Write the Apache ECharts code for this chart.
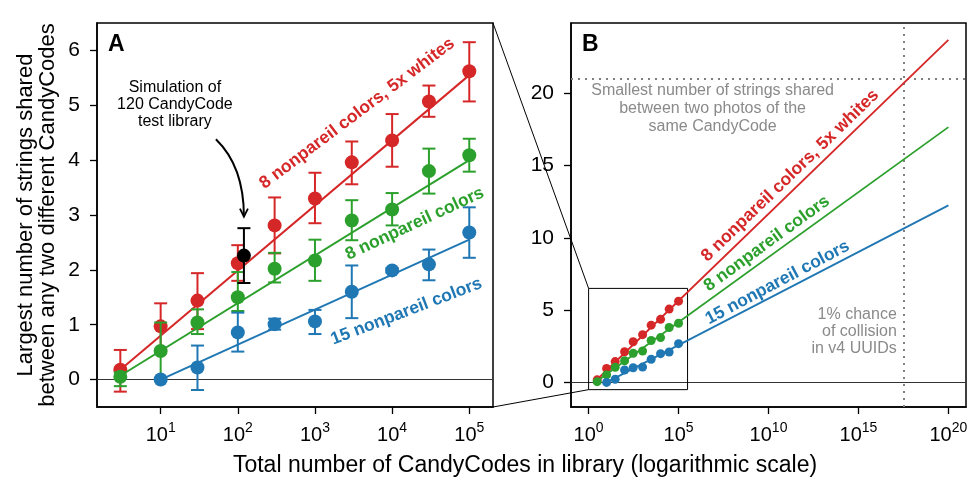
<!DOCTYPE html>
<html><head><meta charset="utf-8">
<script src="https://cdn.jsdelivr.net/npm/echarts@6/dist/echarts.min.js"></script>
<style>html,body{margin:0;padding:0;background:#fff}#c{width:973px;height:478px}</style>
</head><body><div id="c"></div>
<script>
// ---------- data ----------
const libSizes   = [3, 10, 30, 100, 300, 1000, 3000, 10000, 30000, 100000];
const redMean    = [0.18, 0.97, 1.44, 2.12, 2.81, 3.30, 3.96, 4.36, 5.07, 5.62];
const redLow     = [-0.22, 0.55, 0.92, 1.80, 2.30, 2.85, 3.56, 3.88, 4.79, 5.07];
const redHigh    = [0.54, 1.39, 1.94, 2.45, 3.32, 3.77, 4.34, 4.84, 5.36, 6.15];
const greenMean  = [0.05, 0.52, 1.04, 1.50, 2.02, 2.17, 2.90, 3.10, 3.80, 4.09];
const greenLow   = [-0.12, 0.00, 0.83, 1.25, 1.77, 1.80, 2.54, 2.81, 3.39, 3.79];
const greenHigh  = [0.13, 1.04, 1.28, 1.96, 2.31, 2.55, 3.27, 3.40, 4.21, 4.39];
const blueSizes  = [10, 30, 100, 300, 1000, 3000, 10000, 30000, 100000];
const blueMean   = [0.00, 0.22, 0.86, 1.01, 1.06, 1.60, 1.99, 2.10, 2.68];
const blueLow    = [0.00, -0.19, 0.51, 0.91, 0.83, 1.12, 1.95, 1.81, 2.22];
const blueHigh   = [0.00, 0.62, 1.22, 1.11, 1.27, 2.08, 2.03, 2.37, 3.14];
const simSize = [120], simMean = [2.26], simLow = [1.76], simHigh = [2.76];

// fitted lines (endpoints)
const redFitA   = [[3, 0.18], [100000, 5.55]];
const greenFitA = [[3, 0.07], [100000, 4.00]];
const blueFitA  = [[10, 0.00], [100000, 2.55]];
const redFitB   = [[3, 0.20], [1e20, 23.69]];
const greenFitB = [[3, 0.10], [1e20, 17.65]];
const blueFitB  = [[10, 0.00], [1e20, 12.24]];

// axes
const xRangeA = [1.496, 2.03e5], yRangeA = [-0.5, 6.5];
const xRangeB = [0.105, 9.5e20], yRangeB = [-1.7, 24.85];
const xTicksA = [10, 100, 1000, 10000, 100000];
const yTicksA = [0, 1, 2, 3, 4, 5, 6];
const xTicksB = [1, 1e5, 1e10, 1e15, 1e20];
const yTicksB = [0, 5, 10, 15, 20];
const insetX = [1, 3.16e5], insetY = [-0.5, 6.5];
const thresholdY = 21, uuidX = 3.16e17;

// texts
const labelRed = '8 nonpareil colors, 5x whites';
const labelGreen = '8 nonpareil colors';
const labelBlue = '15 nonpareil colors';
const simText = 'Simulation of\n120 CandyCode\ntest library';
const thresholdText = 'Smallest number of strings shared\nbetween two photos of the\nsame CandyCode';
const uuidText = '1% chance\nof collision\nin v4 UUIDs';
const yTitle = 'Largest number of strings shared\nbetween any two different CandyCodes';
const xTitle = 'Total number of CandyCodes in library (logarithmic scale)';

// ---------- style ----------
const FONT = "'Liberation Sans', Arial, Helvetica, sans-serif";
const RED = '#d62728', GREEN = '#2ca02c', BLUE = '#1f77b4', GREY = '#8a8a8a';
const gridA = {left: 97, top: 23, width: 396, height: 384};
const gridB = {left: 571, top: 23, width: 395, height: 384};

const zip = (xs, ys) => xs.map((x, i) => [x, ys[i]]);
const zip3 = (xs, a, b) => xs.map((x, i) => [x, a[i], b[i]]);

function xAxisCfg(g, range, ticks) {
  return {
    type: 'log', logBase: 10, gridIndex: g, min: range[0], max: range[1],
    axisLine: {show: true, onZero: false, lineStyle: {color: '#000', width: 1.5}},
    splitLine: {show: false}, minorTick: {show: false}, minorSplitLine: {show: false},
    axisTick: {show: true, customValues: ticks, length: 7, lineStyle: {color: '#000', width: 1.3}},
    axisLabel: {
      customValues: ticks, margin: 14,
      formatter: v => '{b|10}{s|' + Math.round(Math.log10(v)) + '}',
      rich: {
        b: {fontSize: 20, fontFamily: FONT, color: '#000', lineHeight: 24, verticalAlign: 'bottom'},
        s: {fontSize: 14, fontFamily: FONT, color: '#000', lineHeight: 24, verticalAlign: 'top'}
      }
    }
  };
}
function yAxisCfg(g, range, ticks) {
  return {
    type: 'value', gridIndex: g, min: range[0], max: range[1],
    axisLine: {show: true, onZero: false, lineStyle: {color: '#000', width: 1.5}},
    splitLine: {show: false},
    axisTick: {show: true, customValues: ticks, length: 7, lineStyle: {color: '#000', width: 1.3}},
    axisLabel: {customValues: ticks, margin: 17, fontSize: 21, fontFamily: FONT, color: '#000'}
  };
}

function errRender(color) {
  return function (params, api) {
    const x = api.value(0), lo = api.value(1), hi = api.value(2);
    if (lo === hi) return {type: 'group', children: []};
    const p1 = api.coord([x, hi]), p2 = api.coord([x, lo]);
    const hw = 6.5, st = {stroke: color, lineWidth: 2};
    return {type: 'group', children: [
      {type: 'line', shape: {x1: p1[0], y1: p1[1], x2: p2[0], y2: p2[1]}, style: st},
      {type: 'line', shape: {x1: p1[0] - hw, y1: p1[1], x2: p1[0] + hw, y2: p1[1]}, style: st},
      {type: 'line', shape: {x1: p2[0] - hw, y1: p2[1], x2: p2[0] + hw, y2: p2[1]}, style: st}
    ]};
  };
}

let z = 2;
function fitSeries(g, data, color, w) {
  return {type: 'line', xAxisIndex: g, yAxisIndex: g, data: data, showSymbol: false, symbol: 'none',
    lineStyle: {color: color, width: w}, z: z++, silent: true, animation: false};
}
function errSeries(g, xs, lo, hi, color) {
  return {type: 'custom', xAxisIndex: g, yAxisIndex: g, data: zip3(xs, lo, hi),
    encode: {x: 0, y: [1, 2]}, renderItem: errRender(color), z: z++, silent: true, animation: false};
}
function dotSeries(g, xs, ys, color, size) {
  return {type: 'scatter', xAxisIndex: g, yAxisIndex: g, data: zip(xs, ys), symbol: 'circle',
    symbolSize: size, itemStyle: {color: color, opacity: 1}, z: z++, silent: true, animation: false};
}

const series = [];
// panel A
series.push({type: 'line', xAxisIndex: 0, yAxisIndex: 0, data: [], z: 1, silent: true,
  markLine: {silent: true, symbol: 'none', label: {show: false}, animation: false,
    lineStyle: {color: '#333', width: 1, type: 'solid'}, data: [{yAxis: 0}]}});
series.push(fitSeries(0, redFitA, RED, 2));
series.push(errSeries(0, libSizes, redLow, redHigh, RED));
series.push(dotSeries(0, libSizes, redMean, RED, 14));
series.push(fitSeries(0, greenFitA, GREEN, 2));
series.push(errSeries(0, libSizes, greenLow, greenHigh, GREEN));
series.push(dotSeries(0, libSizes, greenMean, GREEN, 14));
series.push(fitSeries(0, blueFitA, BLUE, 2));
series.push(errSeries(0, blueSizes, blueLow, blueHigh, BLUE));
series.push(dotSeries(0, blueSizes, blueMean, BLUE, 14));
series.push(errSeries(0, simSize, simLow, simHigh, '#000'));
series.push(dotSeries(0, simSize, simMean, '#000', 14));
// panel B
series.push({type: 'line', xAxisIndex: 1, yAxisIndex: 1, data: [], z: 1, silent: true,
  markLine: {silent: true, symbol: 'none', label: {show: false}, animation: false,
    data: [
      {yAxis: 0, lineStyle: {color: '#333', width: 1, type: 'solid'}},
      {yAxis: thresholdY, lineStyle: {color: '#808080', width: 2, type: [2, 5]}},
      {xAxis: uuidX, lineStyle: {color: '#808080', width: 2, type: [2, 5]}}
    ]}});
series.push({type: 'line', xAxisIndex: 1, yAxisIndex: 1, showSymbol: false, symbol: 'none', silent: true,
  data: [[insetX[0], insetY[0]], [insetX[1], insetY[0]], [insetX[1], insetY[1]], [insetX[0], insetY[1]], [insetX[0], insetY[0]]],
  lineStyle: {color: '#000', width: 1}, z: z++, animation: false});
series.push(fitSeries(1, redFitB, RED, 1.8));
series.push(dotSeries(1, libSizes, redMean, RED, 9));
series.push(fitSeries(1, greenFitB, GREEN, 1.8));
series.push(dotSeries(1, libSizes, greenMean, GREEN, 9));
series.push(fitSeries(1, blueFitB, BLUE, 1.8));
series.push(dotSeries(1, blueSizes, blueMean, BLUE, 9));

const chart = echarts.init(document.getElementById('c'));
chart.setOption({
  animation: false,
  backgroundColor: '#fff',
  grid: [
    Object.assign({show: true, borderColor: '#000', borderWidth: 1.5, containLabel: false}, gridA),
    Object.assign({show: true, borderColor: '#000', borderWidth: 1.5, containLabel: false}, gridB)
  ],
  xAxis: [xAxisCfg(0, xRangeA, xTicksA), xAxisCfg(1, xRangeB, xTicksB)],
  yAxis: [yAxisCfg(0, yRangeA, yTicksA), yAxisCfg(1, yRangeB, yTicksB)],
  series: series
});

// ---------- annotations placed via the axes ----------
const pA = v => chart.convertToPixel({xAxisIndex: 0, yAxisIndex: 0}, v);
const pB = v => chart.convertToPixel({xAxisIndex: 1, yAxisIndex: 1}, v);
const deg = d => d * Math.PI / 180;

function rotLabel(pos, text, color, angle) {
  return {type: 'text', x: pos[0], y: pos[1], rotation: deg(angle), z: 100,
    style: {text: text, fill: color, font: 'bold 17.5px ' + FONT, align: 'center', verticalAlign: 'middle'}};
}

const cornerTR = pA([xRangeA[1], yRangeA[1]]);
const cornerBR = pA([xRangeA[1], yRangeA[0]]);
const insetTL = pB([insetX[0], insetY[1]]);
const insetBL = pB([insetX[0], insetY[0]]);
const arrowStart = pA([52, 4.38]);
const arrowEnd = pA([simSize[0], 2.97]);
const cp = [arrowEnd[0], arrowStart[1] + 0.35 * (arrowEnd[1] - arrowStart[1])];

const graphics = [
  {type: 'line', shape: {x1: cornerTR[0], y1: cornerTR[1], x2: insetTL[0], y2: insetTL[1]}, style: {stroke: '#000', lineWidth: 1}, z: 50},
  {type: 'line', shape: {x1: cornerBR[0], y1: cornerBR[1], x2: insetBL[0], y2: insetBL[1]}, style: {stroke: '#000', lineWidth: 1}, z: 50},
  rotLabel(pA([3524, 4.85]), labelRed, RED, 37),
  rotLabel(pA([19680, 2.84]), labelGreen, GREEN, 25),
  rotLabel(pA([15380, 1.24]), labelBlue, BLUE, 21),
  rotLabel(pB([1.6e11, 14.3]), labelRed, RED, 44),
  rotLabel(pB([8.1e9, 9.6]), labelGreen, GREEN, 36),
  rotLabel(pB([3.2e10, 6.9]), labelBlue, BLUE, 28),
  {type: 'text', x: pA([15.3, 5.01])[0], y: pA([15.3, 5.01])[1], z: 100,
    style: {text: simText, fill: '#000', font: '16px ' + FONT, align: 'center', verticalAlign: 'middle', lineHeight: 17}},
  {type: 'bezierCurve', shape: {x1: arrowStart[0], y1: arrowStart[1], x2: arrowEnd[0], y2: arrowEnd[1], cpx1: cp[0], cpy1: cp[1]},
    style: {stroke: '#000', lineWidth: 2, fill: null}, z: 100},
  {type: 'polyline', shape: {points: [[arrowEnd[0] - 4, arrowEnd[1] - 8], arrowEnd, [arrowEnd[0] + 4, arrowEnd[1] - 8]]},
    style: {stroke: '#000', lineWidth: 1.8, fill: null}, z: 100},
  {type: 'text', x: pB([7.8e6, 18.9])[0], y: pB([7.8e6, 18.9])[1], z: 100,
    style: {text: thresholdText, fill: GREY, font: '16px ' + FONT, align: 'center', verticalAlign: 'middle', lineHeight: 18}},
  {type: 'text', x: pB([1.35e17, 3.54])[0], y: pB([1.35e17, 3.54])[1], z: 100,
    style: {text: uuidText, fill: GREY, font: '16px ' + FONT, align: 'right', verticalAlign: 'middle', lineHeight: 17}},
  {type: 'text', x: gridA.left + 11, y: gridA.top + 22, z: 100,
    style: {text: 'A', fill: '#000', font: 'bold 23px ' + FONT, align: 'left', verticalAlign: 'middle'}},
  {type: 'text', x: gridB.left + 11, y: gridB.top + 22, z: 100,
    style: {text: 'B', fill: '#000', font: 'bold 23px ' + FONT, align: 'left', verticalAlign: 'middle'}},
  {type: 'text', x: 37, y: gridA.top + gridA.height / 2, rotation: deg(90), z: 100,
    style: {text: yTitle, fill: '#000', font: '22px ' + FONT, align: 'center', verticalAlign: 'middle', lineHeight: 22}},
  {type: 'text', x: 525, y: 466, z: 100,
    style: {text: xTitle, fill: '#000', font: '23px ' + FONT, align: 'center', verticalAlign: 'middle'}}
];
chart.setOption({graphic: graphics});
</script>
</body></html>
